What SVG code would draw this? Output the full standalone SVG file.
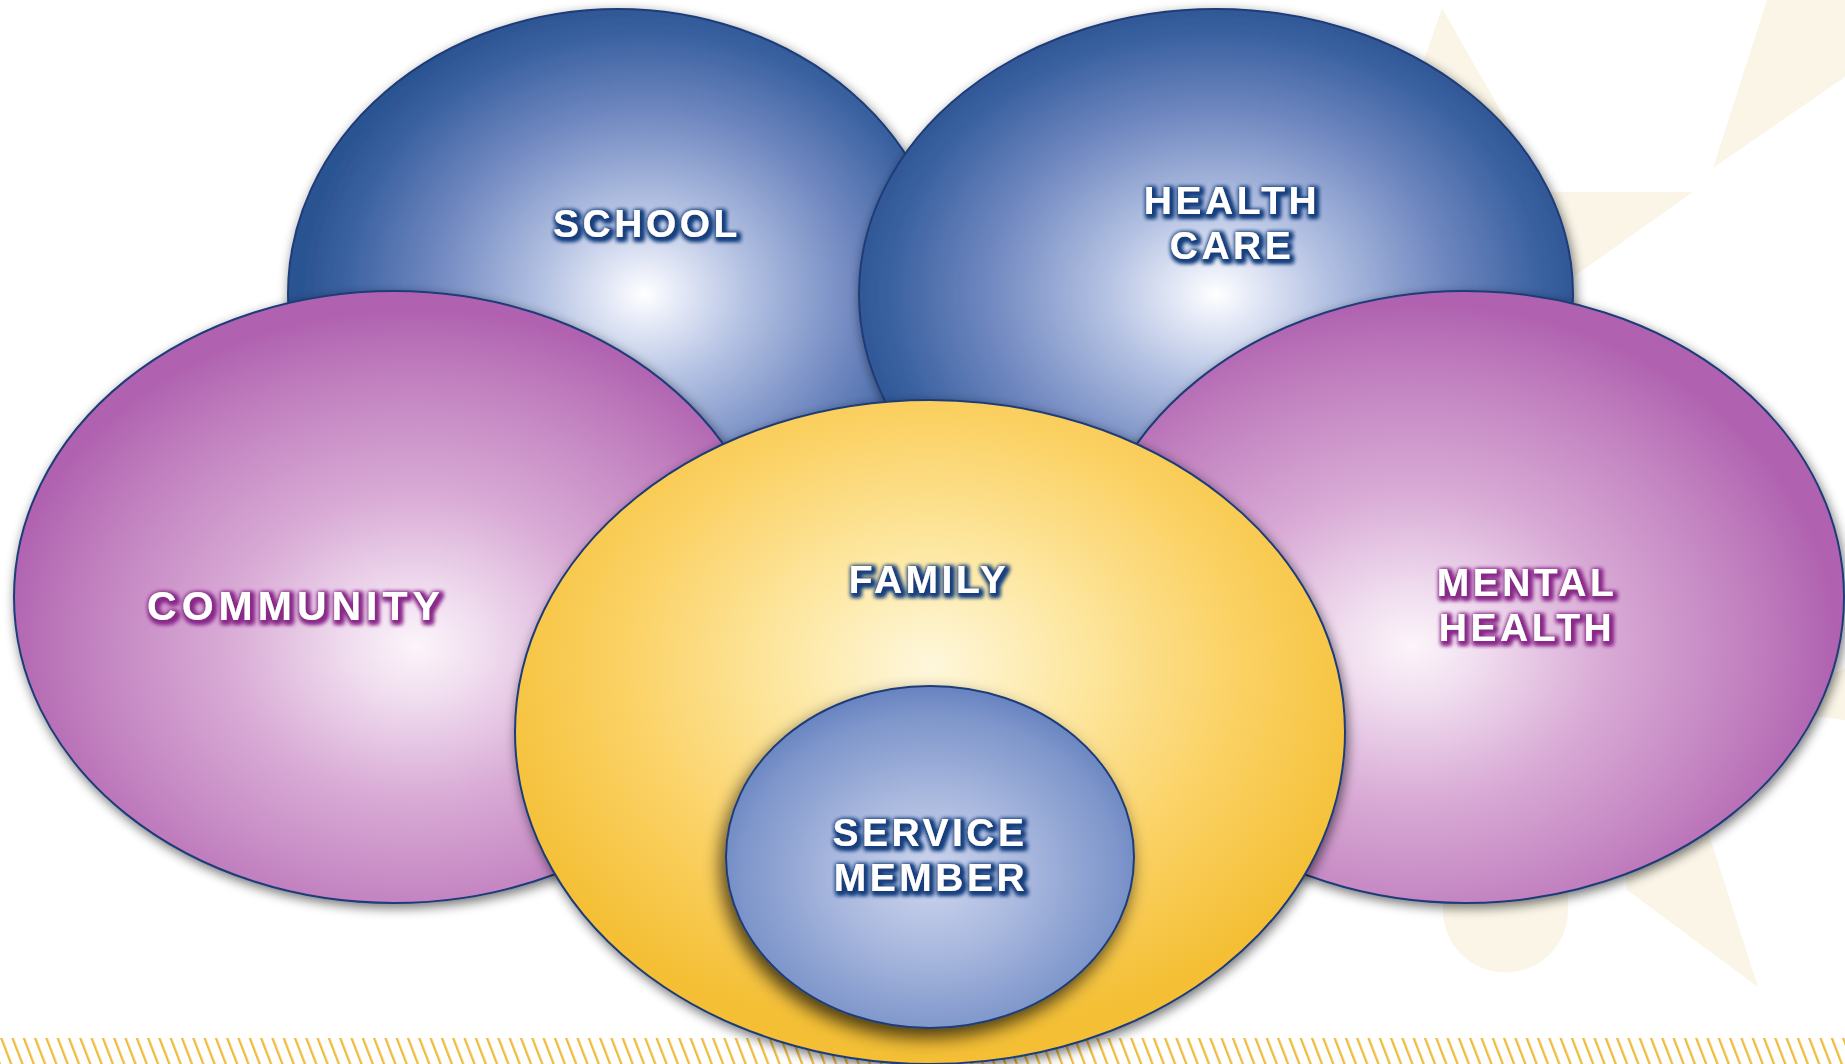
<svg xmlns="http://www.w3.org/2000/svg" width="1845" height="1064" viewBox="0 0 1845 1064">
<defs>
<style>
.lbl{font-family:"Liberation Sans",Arial,sans-serif;font-weight:bold;font-size:39px;letter-spacing:3.5px;fill:#ffffff;text-anchor:middle}
.edge{stroke:#1e3c78;stroke-width:2}
.star{fill:#faf5e7}
</style>
<radialGradient id="gSchool" cx="0.54" cy="0.5" r="0.52">
<stop offset="0" stop-color="#ffffff"/>
<stop offset="0.07" stop-color="#edf0fa"/>
<stop offset="0.3" stop-color="#b3c1e2"/>
<stop offset="0.62" stop-color="#6f87c0"/>
<stop offset="0.88" stop-color="#3a61a0"/>
<stop offset="1" stop-color="#2b5392"/>
</radialGradient>
<radialGradient id="gHealth" cx="0.5" cy="0.5" r="0.52">
<stop offset="0" stop-color="#ffffff"/>
<stop offset="0.07" stop-color="#edf0fa"/>
<stop offset="0.3" stop-color="#b3c1e2"/>
<stop offset="0.62" stop-color="#6f87c0"/>
<stop offset="0.88" stop-color="#3a61a0"/>
<stop offset="1" stop-color="#2b5392"/>
</radialGradient>
<radialGradient id="gComm" cx="0.53" cy="0.58" r="0.55">
<stop offset="0" stop-color="#fcf5fa"/>
<stop offset="0.15" stop-color="#f1dff0"/>
<stop offset="0.45" stop-color="#d9abd6"/>
<stop offset="0.78" stop-color="#c282c0"/>
<stop offset="1" stop-color="#b062b0"/>
</radialGradient>
<radialGradient id="gMental" cx="0.43" cy="0.58" r="0.56">
<stop offset="0" stop-color="#fcf5fa"/>
<stop offset="0.15" stop-color="#f1dff0"/>
<stop offset="0.45" stop-color="#d9abd6"/>
<stop offset="0.78" stop-color="#c282c0"/>
<stop offset="1" stop-color="#b062b0"/>
</radialGradient>
<radialGradient id="gFamily" cx="0.5" cy="0.4" r="0.56">
<stop offset="0" stop-color="#fef7dc"/>
<stop offset="0.3" stop-color="#fde8a4"/>
<stop offset="0.65" stop-color="#fbd266"/>
<stop offset="1" stop-color="#f4bf34"/>
</radialGradient>
<radialGradient id="gService" cx="0.5" cy="0.55" r="0.58">
<stop offset="0" stop-color="#cdd6ee"/>
<stop offset="0.4" stop-color="#a9b8de"/>
<stop offset="0.8" stop-color="#7e96cb"/>
<stop offset="1" stop-color="#5f7cbc"/>
</radialGradient>
<filter id="shadow" x="-10%" y="-10%" width="120%" height="125%">
<feGaussianBlur in="SourceAlpha" stdDeviation="6"/>
<feOffset dx="2" dy="4" result="o"/>
<feComponentTransfer><feFuncA type="linear" slope="0.55"/></feComponentTransfer>
<feMerge><feMergeNode/><feMergeNode in="SourceGraphic"/></feMerge>
</filter>
<filter id="shadowBig" x="-15%" y="-15%" width="130%" height="140%">
<feGaussianBlur in="SourceAlpha" stdDeviation="9"/>
<feOffset dx="-4" dy="9" result="o"/>
<feComponentTransfer><feFuncA type="linear" slope="0.7"/></feComponentTransfer>
<feMerge><feMergeNode/><feMergeNode in="SourceGraphic"/></feMerge>
</filter>
<filter id="glowB" x="-20%" y="-60%" width="140%" height="220%">
<feMorphology in="SourceAlpha" operator="dilate" radius="2" result="d"/>
<feGaussianBlur in="d" stdDeviation="2.2" result="b"/>
<feOffset in="b" dx="1.5" dy="1.5" result="bo"/>
<feFlood flood-color="#173f7e"/>
<feComposite in2="bo" operator="in" result="g"/>
<feMerge><feMergeNode in="g"/><feMergeNode in="g"/><feMergeNode in="SourceGraphic"/></feMerge>
</filter>
<filter id="glowP" x="-20%" y="-60%" width="140%" height="220%">
<feMorphology in="SourceAlpha" operator="dilate" radius="2" result="d"/>
<feGaussianBlur in="d" stdDeviation="2.2" result="b"/>
<feOffset in="b" dx="1.5" dy="1.5" result="bo"/>
<feFlood flood-color="#8a2a8a"/>
<feComposite in2="bo" operator="in" result="g"/>
<feMerge><feMergeNode in="g"/><feMergeNode in="g"/><feMergeNode in="SourceGraphic"/></feMerge>
</filter>
<pattern id="hatch" patternUnits="userSpaceOnUse" width="11.3" height="26" patternTransform="translate(0,1038) skewX(21)">
<rect x="0" y="0" width="2.4" height="26" fill="#efbb3a"/>
</pattern>
</defs>

<g id="background">
<rect x="0" y="0" width="1845" height="1064" fill="#ffffff"/>
<polygon class="star" points="1442,8 1547,192 1693,192 1573,277 1540,320 1400,320 1400,75 1423,63"/>
<polygon class="star" points="1767,0 1713,168 1845,77 1845,0"/>
<polygon class="star" points="1620,800 1698,800 1713,847 1758,987 1627,890"/>
<polygon class="star" points="1800,690 1845,668 1845,720 1815,716"/>
<path class="star" d="M1443,840 L1568,840 L1568,910 A62.5,62.5 0 0 1 1443,910 Z"/>
<rect x="0" y="1038" width="1845" height="26" fill="url(#hatch)"/>
</g>

<g id="connectors"></g>

<g id="node-school">
<ellipse class="edge" cx="618" cy="294" rx="330" ry="285" fill="url(#gSchool)" filter="url(#shadow)"/>
<text class="lbl" x="647" y="237" filter="url(#glowB)">SCHOOL</text>
</g>

<g id="node-health-care">
<ellipse class="edge" cx="1216" cy="294" rx="357" ry="285" fill="url(#gHealth)" filter="url(#shadow)"/>
<text class="lbl" x="1232" y="214" filter="url(#glowB)">HEALTH</text>
<text class="lbl" x="1232" y="259" filter="url(#glowB)">CARE</text>
</g>

<g id="node-community">
<ellipse class="edge" cx="394" cy="597" rx="380" ry="306" fill="url(#gComm)" filter="url(#shadow)"/>
<text class="lbl" x="296" y="620" style="font-size:41px;letter-spacing:5px" filter="url(#glowP)">COMMUNITY</text>
</g>

<g id="node-mental-health">
<ellipse class="edge" cx="1465" cy="597" rx="379" ry="306" fill="url(#gMental)" filter="url(#shadow)"/>
<text class="lbl" x="1527" y="596" filter="url(#glowP)">MENTAL</text>
<text class="lbl" x="1527" y="641" filter="url(#glowP)">HEALTH</text>
</g>

<g id="node-family">
<ellipse class="edge" cx="930" cy="732" rx="415" ry="332" fill="url(#gFamily)" filter="url(#shadow)"/>
<text class="lbl" x="929" y="593" filter="url(#glowB)">FAMILY</text>
</g>

<g id="node-service-member">
<ellipse class="edge" cx="930" cy="857" rx="204" ry="171" fill="url(#gService)" filter="url(#shadowBig)"/>
<text class="lbl" x="930" y="846" filter="url(#glowB)">SERVICE</text>
<text class="lbl" x="931" y="891" filter="url(#glowB)">MEMBER</text>
</g>
</svg>
